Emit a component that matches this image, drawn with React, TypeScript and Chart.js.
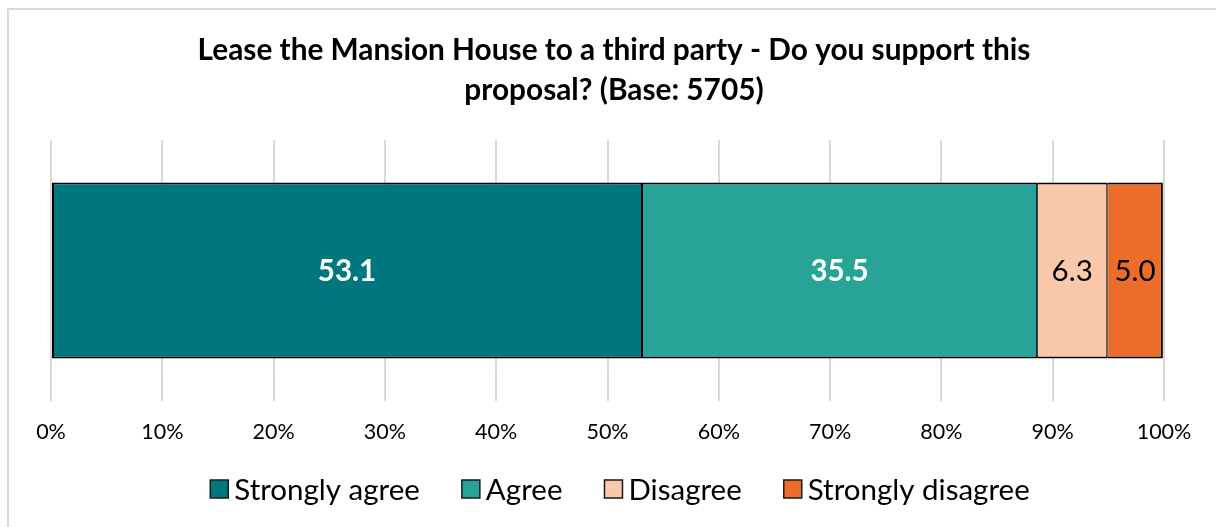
import React, { useEffect, useRef } from "react";
import { Chart, registerables } from "chart.js";

Chart.register(...registerables);

const categories = ["Lease the Mansion House"];
const seriesNames = ["Strongly agree", "Agree", "Disagree", "Strongly disagree"];
const seriesValues = [53.1, 35.5, 6.3, 5.0];
const seriesColors = ["#00777F", "#27A397", "#F9C9AA", "#EC6C2C"];
const labelColors = ["#FFFFFF", "#FFFFFF", "#000000", "#000000"];
const labelBold = [true, true, false, false];
const titleLines = [
  "Lease the Mansion House to a third party - Do you support this",
  "proposal? (Base: 5705)",
];
const xTicks = [0, 10, 20, 30, 40, 50, 60, 70, 80, 90, 100];

const FONT = "Lato, 'Open Sans', sans-serif";

const valueLabels = {
  id: "valueLabels",
  afterDatasetsDraw(chart: any) {
    const ctx = chart.ctx;
    ctx.save();
    chart.data.datasets.forEach((ds: any, i: number) => {
      const meta = chart.getDatasetMeta(i);
      meta.data.forEach((bar: any, j: number) => {
        const v = ds.data[j];
        const cx = (bar.x + bar.base) / 2;
        ctx.fillStyle = labelColors[i];
        ctx.font = `${labelBold[i] ? "bold " : ""}29.5px ${FONT}`;
        ctx.textAlign = "center";
        ctx.textBaseline = "middle";
        ctx.fillText(v.toFixed(1), cx, bar.y + 1);
      });
    });
    ctx.restore();
  },
};

const titleAndLegend = {
  id: "titleAndLegend",
  afterDraw(chart: any) {
    const ctx = chart.ctx;
    ctx.save();
    // title
    ctx.fillStyle = "#000000";
    ctx.font = `bold 29.8px ${FONT}`;
    ctx.textAlign = "center";
    ctx.textBaseline = "middle";
    titleLines.forEach((line, i) => ctx.fillText(line, 614, 50 + i * 40));
    // legend
    ctx.font = `29.5px ${FONT}`;
    const box = 18;
    const textGap = 6;
    const itemGap = 42;
    const widths = seriesNames.map((n) => ctx.measureText(n).width);
    const total =
      widths.reduce((a, w) => a + box + textGap + w, 0) + itemGap * (seriesNames.length - 1);
    let x = 620 - total / 2;
    const y = 489;
    ctx.textAlign = "left";
    seriesNames.forEach((n, i) => {
      ctx.fillStyle = seriesColors[i];
      ctx.fillRect(x, y - box / 2, box, box);
      ctx.strokeStyle = "#1A1A1A";
      ctx.lineWidth = 1.5;
      ctx.strokeRect(x, y - box / 2, box, box);
      ctx.fillStyle = "#000000";
      ctx.fillText(n, x + box + textGap, y + 1);
      x += box + textGap + widths[i] + itemGap;
    });
    ctx.restore();
  },
};

export default function App() {
  const ref = useRef<HTMLCanvasElement>(null);
  useEffect(() => {
    if (!ref.current) return;
    const n = seriesNames.length;
    const chart = new Chart(ref.current, {
      type: "bar",
      data: {
        labels: categories,
        datasets: seriesNames.map((name, i) => ({
          label: name,
          data: [seriesValues[i]],
          backgroundColor: seriesColors[i],
          borderColor: "#000000",
          borderWidth: {
            top: 2,
            bottom: 2,
            left: i === 0 ? 2 : 1,
            right: i === n - 1 ? 2 : 1,
          },
          borderSkipped: false,
          categoryPercentage: 1,
          barPercentage: 0.674,
        })),
      },
      options: {
        indexAxis: "y",
        animation: false,
        responsive: false,
        devicePixelRatio: 1,
        layout: { padding: { left: 51, right: 52, top: 140, bottom: 64 } },
        scales: {
          x: {
            stacked: true,
            min: 0,
            max: 100,
            afterBuildTicks: (scale: any) => {
              scale.ticks = xTicks.map((v) => ({ value: v }));
            },
            ticks: {
              callback: (v: any) => v + "%",
              color: "#000000",
              font: { family: FONT, size: 21.5 },
              padding: 18,
              maxRotation: 0,
            },
            grid: { color: "#D9D9D9", lineWidth: 2, drawTicks: false },
            border: { display: false },
          },
          y: {
            stacked: true,
            display: false,
          },
        },
        plugins: {
          title: { display: false },
          legend: { display: false },
          tooltip: { enabled: false },
        },
      },
      plugins: [valueLabels, titleAndLegend],
    });
    return () => chart.destroy();
  }, []);
  return (
    <>
      <div
        style={{
          position: "fixed",
          left: 7,
          top: 8,
          width: 1240,
          height: 560,
          border: "2px solid #D9D9D9",
          boxSizing: "border-box",
        }}
      />
      <canvas
        ref={ref}
        width={1216}
        height={527}
        style={{ position: "fixed", left: 0, top: 0, width: 1216, height: 527 }}
      />
    </>
  );
}
